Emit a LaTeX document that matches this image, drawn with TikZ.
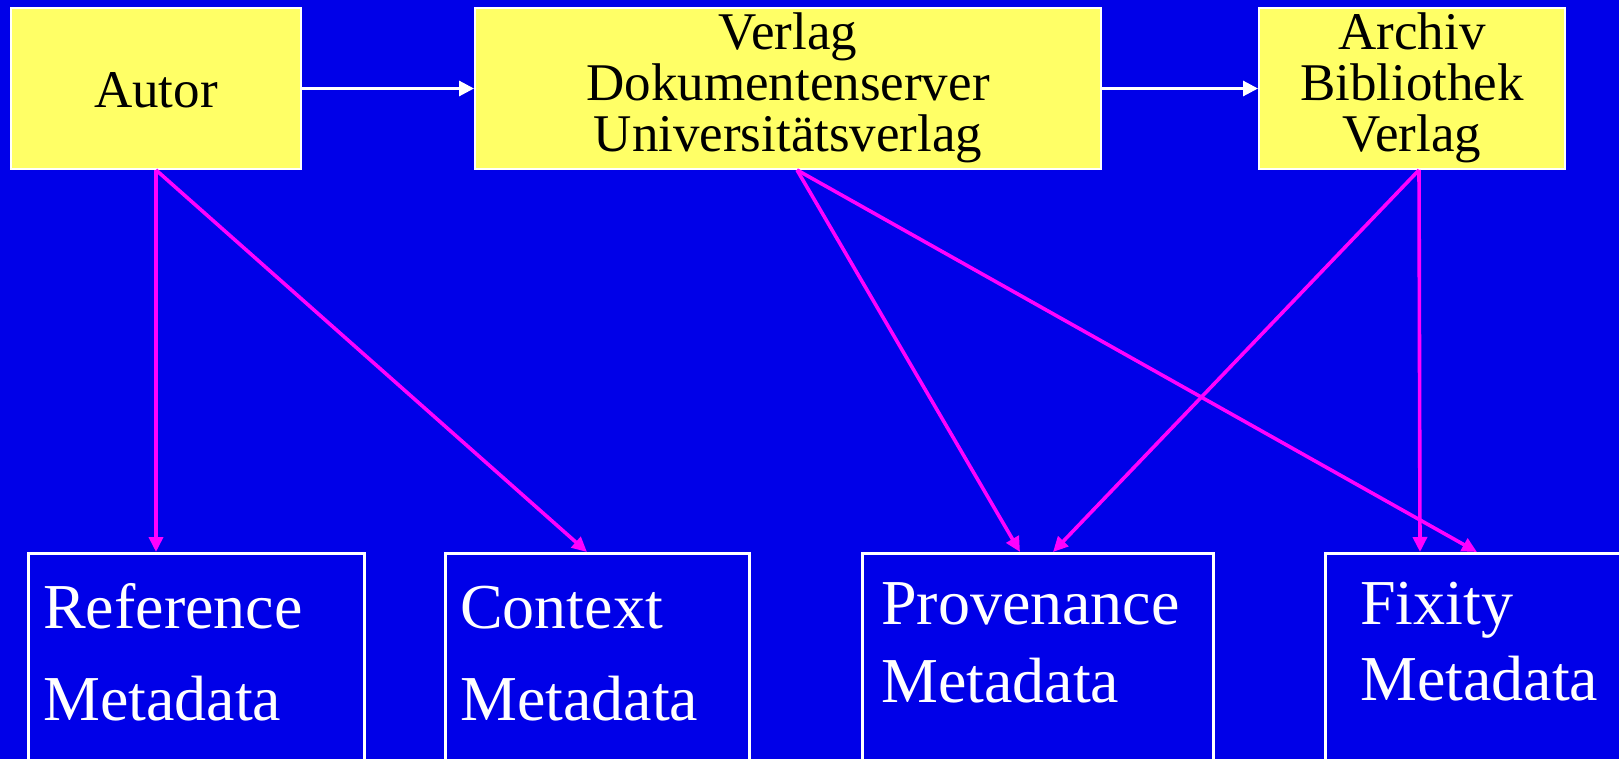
\documentclass[tikz,border=0pt]{standalone}
\usepackage{fontspec}
\setmainfont{Liberation Serif}
\usetikzlibrary{arrows.meta,calc}
\definecolor{bgblue}{RGB}{0,0,232}
\definecolor{boxyellow}{RGB}{255,255,102}
\definecolor{linkmag}{RGB}{255,0,255}
\begin{document}
\begin{tikzpicture}[x=1pt,y=-1pt,
  topbox/.style={draw=white,line width=2pt,fill=boxyellow,inner sep=0pt,minimum height=161pt},
  botbox/.style={draw=white,line width=2.6pt,inner sep=0pt,anchor=north west,minimum height=240pt},
  toptext/.style={font=\fontsize{53}{51}\selectfont,text=black,inner sep=0pt,anchor=base},
  bottext/.style={font=\fontsize{64}{64}\selectfont,text=white,inner sep=0pt,anchor=base west},
  flow/.style={draw=white,line width=3pt,-{Triangle[length=15pt,width=15pt]}},
  link/.style={draw=linkmag,line width=3.6pt,-{Triangle[length=15pt,width=14pt]}}]
\useasboundingbox (0,0) rectangle (1619,759);
\fill[bgblue] (0,0) rectangle (1619,759);
\clip (0,0) rectangle (1619,759);
% top boxes
\node[topbox,minimum width=290pt] (autor) at (156,88.5) {};
\node[topbox,minimum width=626pt] (verlag) at (788,88.5) {};
\node[topbox,minimum width=306pt] (archiv) at (1412,88.5) {};
\node[toptext] (tautor) at (156,108) {Autor};
\node[toptext] (tv1) at (788,50) {Verlag};
\node[toptext] (tv2) at (788,101) {Dokumentenserver};
\node[toptext] (tv3) at (788,152) {Universitätsverlag};
\node[toptext] (ta1) at (1412,50) {Archiv};
\node[toptext] (ta2) at (1412,101) {Bibliothek};
\node[toptext] (ta3) at (1412,152) {Verlag};
% bottom boxes
\node[botbox,minimum width=336pt] (ref) at (27,552) {};
\node[botbox,minimum width=304pt] (ctx) at (444,552) {};
\node[botbox,minimum width=351pt] (prov) at (861,552) {};
\node[botbox,minimum width=320pt] (fix) at (1324,552) {};
\node[bottext] (tr1) at (43,628) {Reference};
\node[bottext] (tr2) at (43,720) {Metadata};
\node[bottext] (tc1) at (460,628) {Context};
\node[bottext] (tc2) at (460,720) {Metadata};
\node[bottext] (tp1) at (881,624) {Provenance};
\node[bottext] (tp2) at (881,702) {Metadata};
\node[bottext] (tf1) at (1360,624) {Fixity};
\node[bottext] (tf2) at (1360,700) {Metadata};
% white flow arrows
\draw[flow] (autor.east) -- (verlag.west);
\draw[flow] (verlag.east) -- (archiv.west);
% magenta links
\coordinate (sA) at (autor.south);
\coordinate (sV) at ($(verlag.south)+(9,0)$);
\coordinate (sR) at ($(archiv.south)+(7,0)$);
\coordinate (eRef) at ($(ref.north west)+(129,0)$);
\coordinate (eCtx) at ($(ctx.north west)+(143,0)$);
\coordinate (eProv1) at ($(prov.north west)+(159,0)$);
\coordinate (eProv2) at ($(prov.north west)+(192,0)$);
\coordinate (eFix1) at ($(fix.north west)+(96,0)$);
\coordinate (eFix2) at ($(fix.north west)+(153,0)$);
\draw[link] (sA) -- (eRef);
\draw[link] (sA) -- (eCtx);
\draw[link] (sV) -- (eProv1);
\draw[link] (sV) -- (eFix2);
\draw[link] (sR) -- (eProv2);
\draw[link] (sR) -- (eFix1);
\end{tikzpicture}
\end{document}
